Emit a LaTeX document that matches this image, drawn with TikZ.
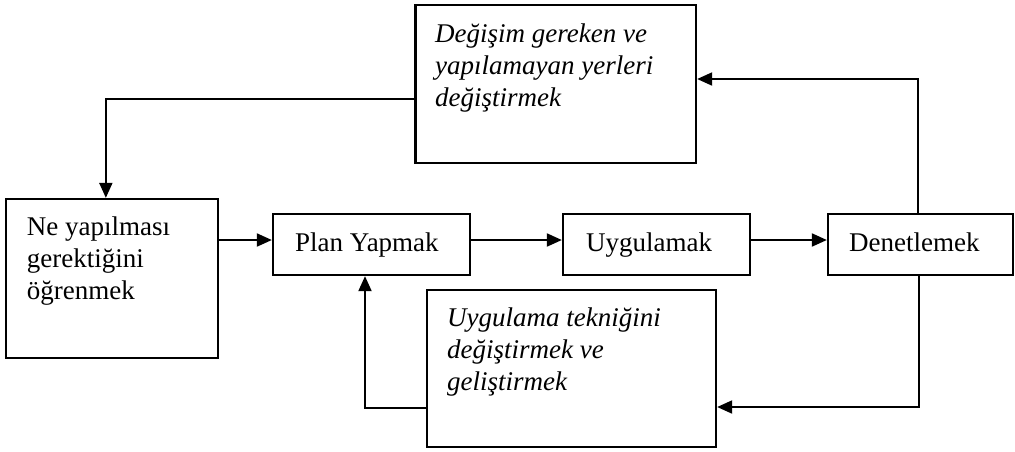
\documentclass[tikz,border=0pt]{standalone}
\usepackage{fontspec}
\setmainfont{Liberation Serif}
\usetikzlibrary{arrows.meta}
\begin{document}
\begin{tikzpicture}[x=1pt,y=-1pt,
  box/.style={draw, line width=2.3pt, inner sep=0pt},
  txt/.style={inner sep=0pt, font=\fontsize{27}{32}\selectfont, align=left},
  itxt/.style={inner sep=0pt, font=\fontsize{27}{32}\selectfont\itshape, align=left},
  conn/.style={line width=2pt, -{Triangle[length=15pt,width=13pt]}}]
\useasboundingbox (0,0) rectangle (1015,451);
% boxes
\node[box, minimum width=280.5pt, minimum height=158pt] (chg) at (555.75,84) {};
\node[box, minimum width=212.3pt, minimum height=159pt] (learn) at (111.85,278.5) {};
\node[box, minimum width=197pt, minimum height=61pt] (plan) at (371.5,244.5) {};
\node[box, minimum width=187pt, minimum height=61pt] (apply) at (656.5,244.5) {};
\node[box, minimum width=185pt, minimum height=61pt] (check) at (920.5,244.5) {};
\node[box, minimum width=289pt, minimum height=157pt] (tech) at (571.5,368.5) {};
% texts
\node[itxt, anchor=north west] (chgT) at (435,20) {\rule{0pt}{22pt}Değişim gereken ve\\yapılamayan yerleri\\değiştirmek};
\node[txt, anchor=north west] (learnT) at (26.7,213) {\rule{0pt}{22pt}Ne yapılması\\gerektiğini\\öğrenmek};
\node[itxt, anchor=north west] (techT) at (447,304.5) {\rule{0pt}{22pt}Uygulama tekniğini\\değiştirmek ve\\geliştirmek};
\node[txt, anchor=base west] (planT) at (295,251) {Plan Yapmak};
\node[txt, anchor=base west] (applyT) at (586,251) {Uygulamak};
\node[txt, anchor=base west] (checkT) at (849,251) {Denetlemek};
% connectors
\coordinate (pw) at ([yshift=4.5pt]plan.west);
\draw[conn] ([yshift=-15pt]chg.west) -| ([xshift=-6pt]learn.north);
\draw[conn] (learn.east |- pw) -- (pw);
\draw[conn] ([yshift=4.5pt]plan.east) -- ([yshift=4.5pt]apply.west);
\draw[conn] ([yshift=4.5pt]apply.east) -- ([yshift=4.5pt]check.west);
\draw[conn] ([xshift=-2.5pt]check.north) |- ([yshift=5pt]chg.east);
\draw[conn] ([xshift=-1.5pt]check.south) |- ([yshift=-38.5pt]tech.east);
\draw[conn] ([yshift=-39.5pt]tech.west) -| ([xshift=-6.5pt]plan.south);
\end{tikzpicture}
\end{document}
